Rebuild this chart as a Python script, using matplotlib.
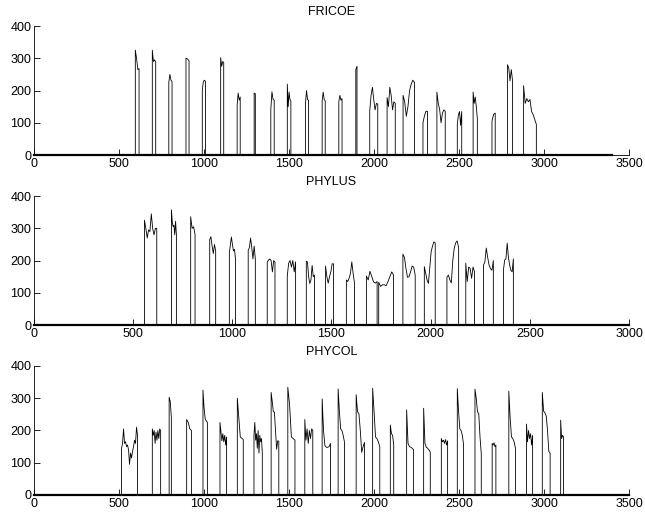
import numpy as np
import matplotlib.pyplot as plt

plt.rcParams['font.family'] = ['Liberation Sans', 'DejaVu Sans']

# FRICOE pulses: start, end and the values read along each pulse
fricoe_start = [596, 696, 793, 894, 990, 1098, 1195, 1295, 1393, 1490, 1597, 1695,
                1793, 1893, 1975, 2077, 2171, 2288, 2370, 2490, 2583, 2694, 2785, 2880]
fricoe_end = [618, 716, 812, 912, 1009, 1116, 1213, 1302, 1413, 1511, 1615, 1713,
              1812, 1900, 2022, 2125, 2238, 2315, 2419, 2516, 2608, 2713, 2815, 2955]
fricoe_vals = [
    [325, 300, 265, 268],
    [325, 290, 295, 288],
    [225, 250, 232, 228],
    [300, 298, 292],
    [200, 228, 232, 228],
    [302, 275, 290, 286],
    [155, 192, 170, 180],
    [192, 190],
    [140, 196, 172, 170],
    [220, 150, 195, 172, 168],
    [160, 200, 172, 170],
    [168, 195, 172, 168],
    [165, 185, 170, 175],
    [265, 275],
    [138, 185, 210, 172, 140, 160, 158],
    [178, 150, 210, 185, 140, 165, 160],
    [185, 165, 120, 150, 200, 220, 232, 225],
    [100, 122, 136, 135],
    [195, 160, 140, 100, 130, 140, 136],
    [95, 125, 135, 92, 135],
    [195, 160, 180, 150, 112],
    [105, 126, 130],
    [280, 270, 230, 265, 230],
    [215, 160, 175, 165, 172, 135, 125, 110, 95],
]

# PHYLUS pulses
phylus_start = [557, 693, 790, 886, 985, 1080, 1176, 1277, 1373, 1470, 1575, 1676,
                1738, 1860, 1968, 2082, 2177, 2266, 2367]
phylus_end = [619, 718, 812, 916, 1016, 1116, 1215, 1319, 1414, 1510, 1616, 1730,
              1813, 1922, 2023, 2141, 2221, 2316, 2417]
phylus_vals = [
    [325, 300, 270, 295, 290, 345, 300, 280, 300, 300],
    [357, 320, 305, 310, 280, 322, 280],
    [336, 300, 305, 281],
    [265, 274, 245, 222, 250, 230],
    [225, 250, 273, 250, 230, 235, 205],
    [232, 240, 270, 240, 205, 245, 205],
    [195, 202, 205, 200, 165, 200, 195],
    [152, 192, 200, 180, 200, 165, 196],
    [198, 196, 150, 129, 140, 185, 150, 155],
    [183, 150, 130, 150, 165, 190, 190],
    [140, 135, 145, 160, 196, 160, 130],
    [152, 140, 167, 150, 134, 130, 135],
    [133, 120, 125, 125, 122, 135, 150, 165, 155],
    [220, 210, 175, 148, 150, 165, 183, 180, 155],
    [181, 160, 140, 129, 180, 227, 245, 258, 255],
    [149, 155, 140, 131, 200, 239, 255, 261, 240],
    [192, 135, 180, 176, 145, 180, 165],
    [186, 195, 239, 210, 186, 175, 170, 200],
    [171, 202, 205, 254, 210, 186, 170, 165, 205],
]

# PHYCOL pulses
phycol_start = [515, 696, 795, 898, 994, 1094, 1196, 1294, 1395, 1493, 1593, 1695,
                1789, 1895, 1992, 2096, 2192, 2292, 2396, 2490, 2594, 2695, 2793,
                2897, 2990, 3098]
phycol_end = [609, 745, 808, 926, 1020, 1133, 1231, 1343, 1440, 1535, 1640, 1744,
              1826, 1944, 2034, 2116, 2233, 2331, 2433, 2527, 2631, 2717, 2832,
              2933, 3036, 3115]
phycol_vals = [
    [145, 160, 205, 160, 165, 150, 155, 140, 95, 130, 115, 135, 150, 170, 160, 210, 185],
    [205, 185, 200, 160, 195, 170, 200, 175, 205, 200],
    [303, 290, 240],
    [234, 225, 205, 200],
    [325, 270, 236, 230, 225],
    [225, 195, 168, 190, 165, 185, 155, 180],
    [300, 240, 180, 176, 172],
    [185, 225, 170, 190, 145, 200, 130, 185, 165, 175, 130],
    [318, 290, 258, 257, 200, 142, 168, 167],
    [334, 280, 180, 175, 170],
    [234, 170, 205, 160, 200, 175, 205, 200],
    [298, 200, 153, 148, 148, 150, 160],
    [329, 260, 205, 200, 185, 165],
    [311, 258, 252, 200, 132, 150, 163],
    [331, 260, 180, 175, 165, 150],
    [217, 190, 185, 155],
    [264, 160, 150, 148, 145, 140],
    [269, 160, 148, 145, 140, 133],
    [175, 165, 170, 160, 172, 155, 168],
    [330, 260, 205, 200, 185, 155],
    [328, 300, 258, 252, 180, 128],
    [160, 155, 162, 150, 155],
    [322, 240, 180, 175, 165, 145],
    [220, 165, 200, 175, 190, 155, 185],
    [318, 260, 255, 245, 200, 135, 130],
    [232, 175, 185, 180],
]

titles = ['FRICOE', 'PHYLUS', 'PHYCOL']
x_max = [3500, 3000, 3500]
data_end = [3400, 3000, 3500]


def build_trace(starts, ends, vals, last):
    xs = [0]
    ys = [0]
    for s, e, v in zip(starts, ends, vals):
        xs += [s] + list(np.linspace(s, e, len(v))) + [e]
        ys += [0] + list(v) + [0]
    xs.append(last)
    ys.append(0)
    return xs, ys


traces = [
    build_trace(fricoe_start, fricoe_end, fricoe_vals, data_end[0]),
    build_trace(phylus_start, phylus_end, phylus_vals, data_end[1]),
    build_trace(phycol_start, phycol_end, phycol_vals, data_end[2]),
]

fig = plt.figure(figsize=(6.45, 5.16), dpi=100)
bottoms = [0.6996, 0.370, 0.0407]

for i in range(3):
    ax = fig.add_axes([0.0527, bottoms[i], 0.9225, 0.25])
    xs, ys = traces[i]
    ax.plot(xs, ys, color='black', linewidth=0.6, clip_on=False)
    ax.plot([0, data_end[i]], [0, 0], color='black', linewidth=1.6, clip_on=False)
    ax.set_xlim(0, x_max[i])
    ax.set_ylim(0, 400)
    ax.set_xticks(np.arange(0, x_max[i] + 1, 500))
    ax.set_yticks([0, 100, 200, 300, 400])
    ax.spines['top'].set_visible(False)
    ax.spines['right'].set_visible(False)
    ax.spines['left'].set_linewidth(0.6)
    ax.spines['bottom'].set_linewidth(0.6)
    ax.tick_params(direction='in', length=4, width=0.6, labelsize=9, pad=2)
    ax.set_title(titles[i], fontsize=9, pad=8)

fig.savefig('out.png', dpi=100)
